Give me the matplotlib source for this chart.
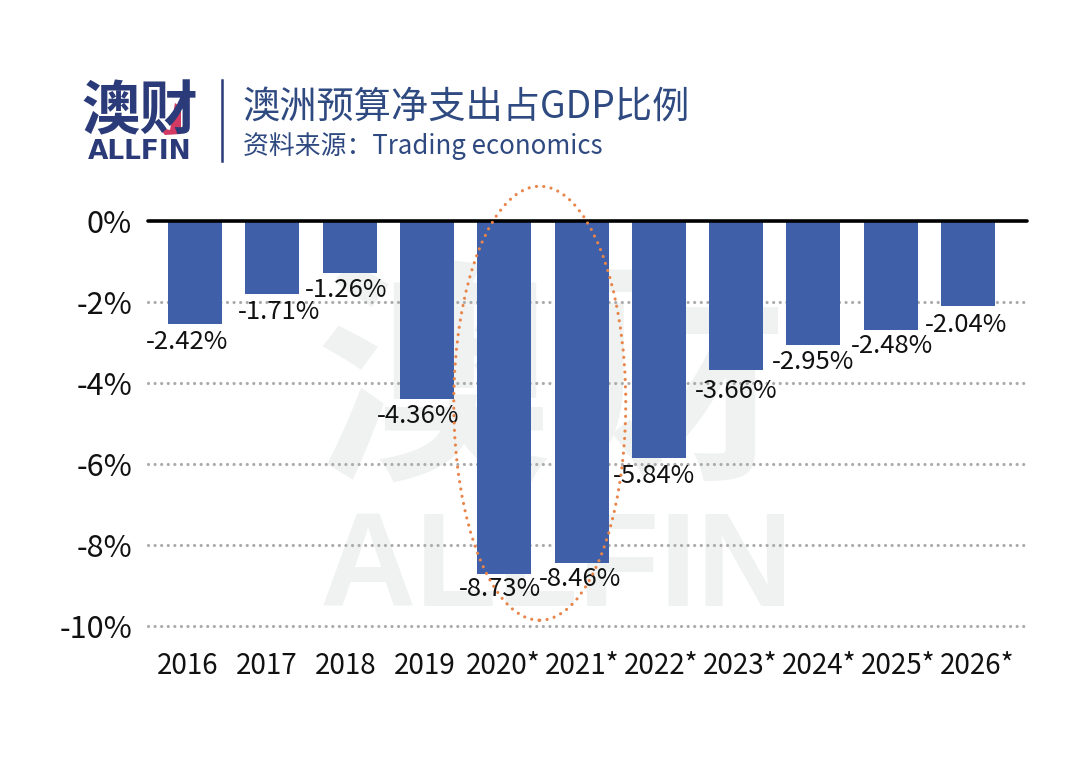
import matplotlib
matplotlib.use('Agg')
import matplotlib.pyplot as plt
from matplotlib.patches import Ellipse, Polygon

plt.rcParams['font.family'] = ['Noto Sans CJK SC', 'DejaVu Sans']

W, H = 1080, 767

years = ['2016', '2017', '2018', '2019', '2020*', '2021*', '2022*', '2023*', '2024*', '2025*', '2026*']
# bar lengths, the printed labels differ a little in the source
bar_values = [-2.54, -1.80, -1.28, -4.40, -8.72, -8.44, -5.85, -3.68, -3.07, -2.69, -2.10]
value_labels = ['-2.42%', '-1.71%', '-1.26%', '-4.36%', '-8.73%', '-8.46%', '-5.84%', '-3.66%', '-2.95%', '-2.48%', '-2.04%']
y_ticks = [0, -2, -4, -6, -8, -10]
y_tick_labels = ['0%', '-2%', '-4%', '-6%', '-8%', '-10%']

# 数据标签是手动摆放的 像素偏移
label_dx = [-8, 7, -3, -9, -4, -1.5, -5, 0, 0, 1, -2]
label_dy = [18, 18, 17, 17, 15, 16, 18, 21, 17, 16, 19]

navy = '#2b3a78'
title_blue = '#2f4a80'
bar_blue = '#3f5fa9'
water = '#eff2f1'

fig = plt.figure(figsize=(W / 100, H / 100), dpi=100, facecolor='white')

# 整张图的像素坐标层 放水印
bg = fig.add_axes([0, 0, 1, 1], zorder=0)
bg.set_xlim(0, W)
bg.set_ylim(H, 0)
bg.axis('off')
bg.text(552, 392, '澳财', color=water, fontsize=170, fontweight='bold', ha='center', va='center')
bg.text(557, 571, 'ALLFIN', color=water, fontsize=96, fontweight='bold', ha='center', va='center',
        family=['Liberation Sans', 'DejaVu Sans'])

# 柱状图
left, right = 148, 1027
top, bottom = 221, 626
ax = fig.add_axes([left / W, 1 - bottom / H, (right - left) / W, (bottom - top) / H], zorder=1)
ax.patch.set_alpha(0)
x = list(range(len(years)))
step = 77.3
unit = (bottom - top) / 10
ax.set_xlim((left - 195) / step, (right - 195) / step)
ax.set_ylim(-10, 0)
ax.bar(x, bar_values, width=54 / step, color=bar_blue, zorder=3)
ax.set_yticks(y_ticks)
ax.set_yticklabels(y_tick_labels, fontsize=22, color='#111111')
# x轴文字比柱子间距略宽
ax.set_xticks([(188 - 195) / step + i * 78.9 / step for i in x])
ax.set_xticklabels(years, fontsize=20, color='#111111')
ax.tick_params(length=0)
ax.tick_params(axis='x', pad=18)
ax.tick_params(axis='y', pad=11.5)
for s in ax.spines.values():
    s.set_visible(False)
for t in y_ticks[1:]:
    ax.axhline(t, color='#ababab', lw=2.3, ls=(0, (0.01, 2.05)), dash_capstyle='round', zorder=2, clip_on=False)
ax.axhline(0, color='black', lw=2.6, zorder=4, clip_on=False, solid_capstyle='round')

for xi, v, lab, dx, dy in zip(x, bar_values, value_labels, label_dx, label_dy):
    ax.annotate(lab, (xi, v), xytext=(dx, -dy), textcoords='offset pixels', ha='center', va='center',
                fontsize=18.5, color='#111111', zorder=5)

ax.add_patch(Ellipse((4.46, -4.5), 172 / step, 434 / unit, fill=False, ec='#e8854a', lw=2.3,
                     ls=(0, (0.01, 2.3)), capstyle='round', zorder=6, clip_on=False))

# 表头
top_ax = fig.add_axes([0, 0, 1, 1], zorder=2)
top_ax.set_xlim(0, W)
top_ax.set_ylim(H, 0)
top_ax.axis('off')
top_ax.text(140, 112, '澳财', color=navy, fontsize=42, fontweight='bold', ha='center', va='center')
top_ax.add_patch(Polygon([[175, 103], [181, 107], [181, 134], [165, 135], [158, 127], [170, 130]],
                         closed=True, fc='#d23a63', ec='none'))
top_ax.text(140, 152, 'ALLFIN', color=navy, fontsize=19, fontweight='bold', ha='center', va='center',
            family=['DejaVu Sans'])
top_ax.plot([222, 222], [80, 161], color=navy, lw=1.8)
top_ax.text(243, 107, '澳洲预算净支出占GDP比例', color=title_blue, fontsize=26.8, ha='left', va='center')
top_ax.text(243, 146, '资料来源：Trading economics', color=title_blue, fontsize=18.6, ha='left', va='center')

fig.savefig('out.png', dpi=100)
